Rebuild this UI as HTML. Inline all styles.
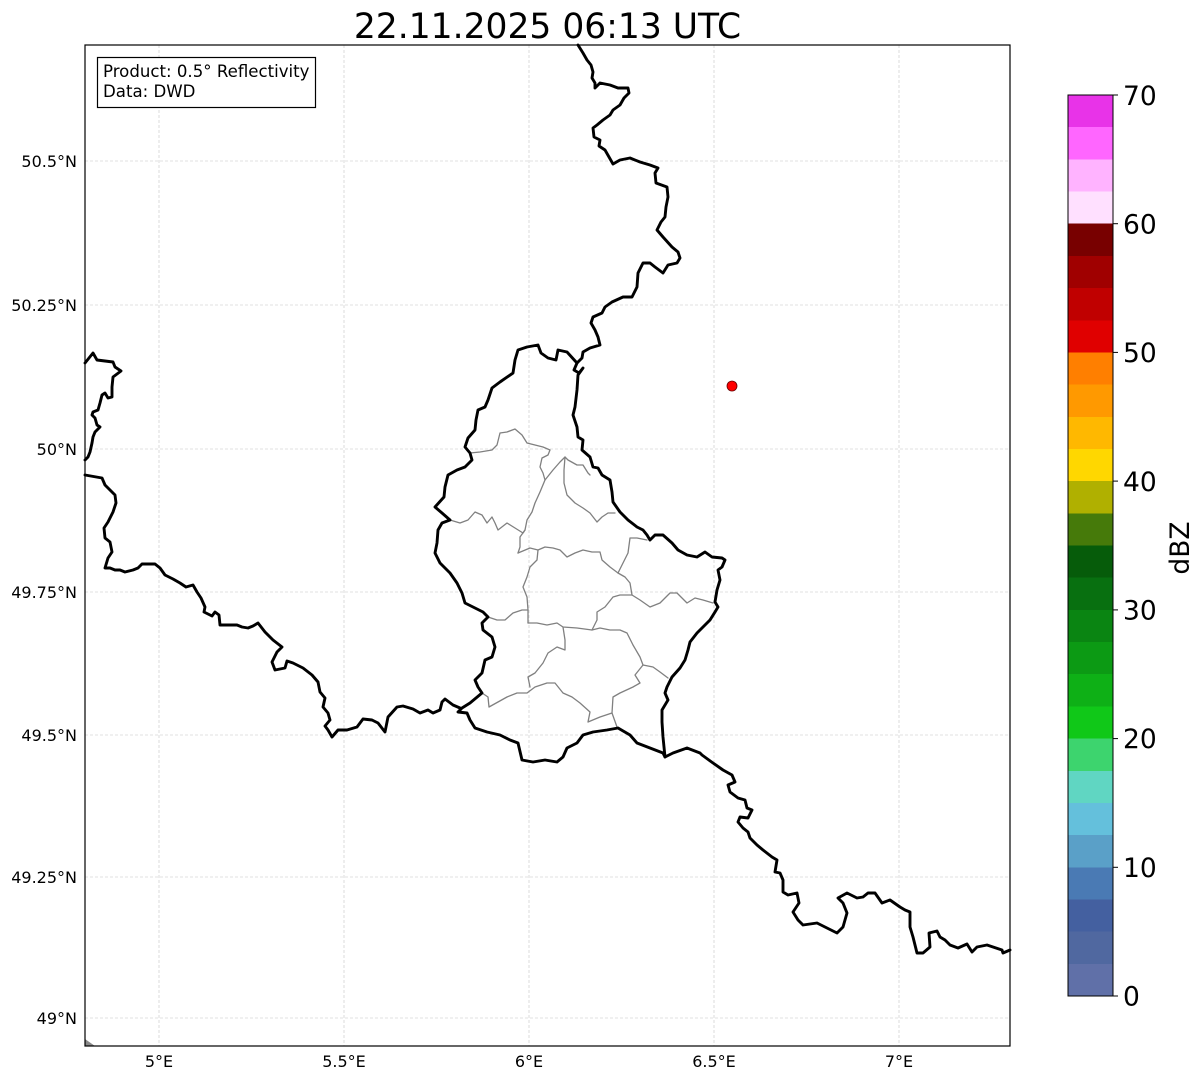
<!DOCTYPE html>
<html>
<head>
<meta charset="utf-8">
<style>
html,body{margin:0;padding:0;background:#fff;}
svg{display:block;}
text{font-family:"DejaVu Sans","Liberation Sans",sans-serif;fill:#000;}
</style>
</head>
<body>
<svg width="1202" height="1081" viewBox="0 0 1202 1081" xmlns="http://www.w3.org/2000/svg">
<rect x="0" y="0" width="1202" height="1081" fill="#fff"/>

<!-- title -->
<text x="547.5" y="38" font-size="34.5" text-anchor="middle">22.11.2025 06:13 UTC</text>

<!-- gridlines -->
<g stroke="#c4c4c4" stroke-width="0.6" stroke-dasharray="3,2" fill="none">
<line x1="159" y1="45" x2="159" y2="1046"/>
<line x1="344" y1="45" x2="344" y2="1046"/>
<line x1="529" y1="45" x2="529" y2="1046"/>
<line x1="714" y1="45" x2="714" y2="1046"/>
<line x1="899" y1="45" x2="899" y2="1046"/>
<line x1="85" y1="161" x2="1010" y2="161"/>
<line x1="85" y1="305" x2="1010" y2="305"/>
<line x1="85" y1="449" x2="1010" y2="449"/>
<line x1="85" y1="592" x2="1010" y2="592"/>
<line x1="85" y1="735" x2="1010" y2="735"/>
<line x1="85" y1="877" x2="1010" y2="877"/>
<line x1="85" y1="1018" x2="1010" y2="1018"/>
</g>

<!-- canton lines -->
<g stroke="#808080" stroke-width="1.3" fill="none" stroke-linejoin="round" stroke-linecap="round">
<polyline points="470,453 480,452 492,450 497,445 500,433 507,432 515,429 522,435 527,443 535,445 543,447 550,450 548,455 542,458 540,467 543,473 545,480 540,492 535,503 532,512 527,520 525,530 520,537 520,547 518,553"/>
<polyline points="545,480 553,470 560,462 565,457 568,460 577,465 583,465 588,473 590,475"/>
<polyline points="565,457 564,470 564,483 567,495 575,503 583,508 590,513 597,522 602,517 608,513 615,513"/>
<polyline points="450,520 460,523 468,520 475,512 482,515 487,523 492,517 495,523 498,530 507,523 515,528 523,533 525,530"/>
<polyline points="518,553 530,548 538,550 545,547 553,548 560,550 567,557 575,553 583,550 592,552 600,552 602,560 610,567 618,573 625,577 630,583 632,595"/>
<polyline points="618,573 628,553 630,538 637,538 647,540"/>
<polyline points="538,550 537,560 530,567 527,577 523,587 527,597 528,610 528,623"/>
<polyline points="488,617 497,620 505,620 513,613 522,610 528,610"/>
<polyline points="528,623 537,623 547,625 557,623 563,627 577,628 592,630 600,628 610,630 620,630 627,633 633,645 640,657 643,665"/>
<polyline points="632,595 620,595 613,597 605,607 597,612 597,620 592,630"/>
<polyline points="632,595 640,600 650,607 660,603 670,593 677,593 687,603 695,598 703,600 713,603"/>
<polyline points="563,627 565,640 565,650 557,647 548,653 543,663 535,673 528,677 530,687"/>
<polyline points="482,693 488,697 489,707 507,697 517,693 527,693 535,687 547,683 555,683 563,693 572,697 580,703 590,712 588,722 600,717 612,713 617,727"/>
<polyline points="612,713 613,697 620,693 633,687 640,683 635,675 643,665 653,667 660,672 668,678"/>
</g>

<!-- country borders -->
<g stroke="#000" stroke-width="2.9" fill="none" stroke-linejoin="round" stroke-linecap="round">
<polyline points="578,45 583,53 587,60 591,65 593,72 592,78 595,83 595,88 600,83 610,85 618,88 628,88 629,93 624,98 620,105 613,110 610,115 603,120 597,125 593,128 594,137 600,140 599,146 605,150 609,157 613,164 620,160 630,158 640,162 650,165 658,168 655,173 656,183 667,187 668,197 666,207 665,217 661,222 657,230 663,237 672,247 678,252 680,258 677,263 668,265 663,273 655,267 650,263 643,263 638,273 637,287 632,297 623,297 612,302 605,307 602,313 593,317 591,323 595,330 598,337 600,345 590,348 583,352 582,358 577,363 574,370 579,373 583,368 578,375 577,390 575,407 573,415 577,427 578,437 583,440 582,450 590,457 593,467 598,468 602,475 610,480 612,492 613,502 620,512 628,520 637,527 643,530 647,535 650,540 655,535 663,535 672,543 678,550 687,555 697,557 705,552 712,557 722,558 725,560 722,567 718,570 720,580 717,590 715,602 718,607 715,612 710,620 703,627 697,633 690,642 688,650 685,660 680,668 672,677 667,687 665,693 668,700 662,710 662,722 663,737 665,757 673,753 687,748 700,753 702,755 713,763 723,770 732,775 735,782 728,785 730,792 738,798 745,800 747,808 752,810 748,818 740,817 738,822 743,828 748,832 750,838 757,845 763,850 772,857 777,860 775,872 780,873 783,880 783,892 788,895 797,893 799,903 793,912 798,920 803,925 817,923 827,928 837,933 843,927 847,913 843,903 838,898 847,893 857,898 863,897 868,893 875,893 882,903 890,900 900,907 905,910 910,912 910,927 913,937 917,953 923,953 930,947 929,933 937,931 940,937 945,940 950,945 958,948 967,944 972,952 977,947 987,945 993,947 1002,950 1003,953 1010,950"/>
<polyline points="577,363 567,352 558,350 556,360 548,358 541,353 538,345 527,347 518,350 515,360 513,373 500,382 492,388 488,400 485,407 478,410 476,420 475,430 468,438 465,447 470,453 472,460 465,467 457,470 448,475 445,487 444,497 435,507 442,513 450,520 442,523 438,530 437,543 435,553 440,563 450,573 457,583 462,593 465,603 473,607 483,612 488,617 482,623 483,630 492,637 495,647 492,657 485,660 482,673 475,680 478,687 482,693 470,703 462,708 458,712 467,713 470,720 475,728 487,732 500,735 510,740 518,743 522,760 533,762 545,760 557,762 563,757 567,748 577,743 583,735 593,732 607,730 618,728 630,735 637,743 650,748 663,753 665,757"/>
<polyline points="85,475 102,478 105,485 112,492 115,495 116,503 113,512 108,522 104,528 105,538 110,542 112,552 108,558 105,568 110,568 115,570 120,570 125,572 133,570 138,568 142,564 155,564 160,568 165,575 173,579 180,583 186,587 193,585 197,592 201,598 205,607 204,612 212,616 215,612 219,615 220,625 227,625 237,625 242,627 248,628 253,626 258,623 265,632 273,640 282,647 277,652 272,662 275,670 285,668 287,661 293,663 303,668 312,675 318,682 320,692 325,698 323,707 328,713 330,720 325,726 328,730 332,737 338,730 347,730 357,727 363,719 372,720 378,723 385,732 388,717 397,707 403,706 413,709 420,713 428,710 433,713 440,710 442,702 445,699 453,705 460,708"/>
<polyline points="85,363 93,353 97,360 113,362 115,367 121,371 113,377 112,387 112,397 108,398 105,393 102,395 100,403 98,410 93,412 92,415 95,418 97,425 100,427 95,432 93,437 92,443 90,452 88,457 85,460"/>
</g>

<!-- corner gray piece -->
<polygon points="85,1039 95,1046 85,1046" fill="#888"/>

<!-- radar site -->
<circle cx="732" cy="386" r="5" fill="#f00" stroke="#600" stroke-width="0.8"/>

<!-- axes frame -->
<rect x="85" y="45" width="925" height="1001" fill="none" stroke="#000" stroke-width="1.2"/>

<!-- info box -->
<rect x="97.5" y="57.5" width="218" height="50" fill="#fff" stroke="#000" stroke-width="1.2"/>
<text x="103" y="77" font-size="16.6">Product: 0.5° Reflectivity</text>
<text x="103" y="97" font-size="16.6">Data: DWD</text>

<!-- y labels -->
<g font-size="16" text-anchor="end">
<text x="77" y="167">50.5°N</text>
<text x="77" y="311">50.25°N</text>
<text x="77" y="455">50°N</text>
<text x="77" y="598">49.75°N</text>
<text x="77" y="741">49.5°N</text>
<text x="77" y="883">49.25°N</text>
<text x="77" y="1024">49°N</text>
</g>
<!-- x labels -->
<g font-size="16" text-anchor="middle">
<text x="159" y="1067">5°E</text>
<text x="344" y="1067">5.5°E</text>
<text x="529" y="1067">6°E</text>
<text x="714" y="1067">6.5°E</text>
<text x="899" y="1067">7°E</text>
</g>

<!-- colorbar -->
<g shape-rendering="crispEdges">
<rect x="1068" y="95.00" width="45" height="32.6" fill="#e833e8"/>
<rect x="1068" y="127.18" width="45" height="32.6" fill="#ff66ff"/>
<rect x="1068" y="159.36" width="45" height="32.6" fill="#ffb3ff"/>
<rect x="1068" y="191.54" width="45" height="32.6" fill="#ffe0ff"/>
<rect x="1068" y="223.71" width="45" height="32.6" fill="#780000"/>
<rect x="1068" y="255.89" width="45" height="32.6" fill="#a00000"/>
<rect x="1068" y="288.07" width="45" height="32.6" fill="#c00000"/>
<rect x="1068" y="320.25" width="45" height="32.6" fill="#e00000"/>
<rect x="1068" y="352.43" width="45" height="32.6" fill="#ff7f00"/>
<rect x="1068" y="384.61" width="45" height="32.6" fill="#ff9900"/>
<rect x="1068" y="416.79" width="45" height="32.6" fill="#ffb800"/>
<rect x="1068" y="448.96" width="45" height="32.6" fill="#ffd700"/>
<rect x="1068" y="481.14" width="45" height="32.6" fill="#b0b000"/>
<rect x="1068" y="513.32" width="45" height="32.6" fill="#467a0a"/>
<rect x="1068" y="545.50" width="45" height="32.6" fill="#065c0a"/>
<rect x="1068" y="577.68" width="45" height="32.6" fill="#087010"/>
<rect x="1068" y="609.86" width="45" height="32.6" fill="#0a8512"/>
<rect x="1068" y="642.04" width="45" height="32.6" fill="#0c9a14"/>
<rect x="1068" y="674.21" width="45" height="32.6" fill="#0eb016"/>
<rect x="1068" y="706.39" width="45" height="32.6" fill="#10c818"/>
<rect x="1068" y="738.57" width="45" height="32.6" fill="#3dd46e"/>
<rect x="1068" y="770.75" width="45" height="32.6" fill="#60d6c2"/>
<rect x="1068" y="802.93" width="45" height="32.6" fill="#64c0dc"/>
<rect x="1068" y="835.11" width="45" height="32.6" fill="#5aa0c8"/>
<rect x="1068" y="867.29" width="45" height="32.6" fill="#4a7ab4"/>
<rect x="1068" y="899.46" width="45" height="32.6" fill="#4460a0"/>
<rect x="1068" y="931.64" width="45" height="32.6" fill="#5068a0"/>
<rect x="1068" y="963.82" width="45" height="32.18" fill="#6070a8"/>
</g>
<rect x="1068" y="95" width="45" height="901" fill="none" stroke="#000" stroke-width="1"/>
<g stroke="#000" stroke-width="1">
<line x1="1113" y1="95" x2="1118" y2="95"/>
<line x1="1113" y1="223.7" x2="1118" y2="223.7"/>
<line x1="1113" y1="352.4" x2="1118" y2="352.4"/>
<line x1="1113" y1="481.1" x2="1118" y2="481.1"/>
<line x1="1113" y1="609.9" x2="1118" y2="609.9"/>
<line x1="1113" y1="738.6" x2="1118" y2="738.6"/>
<line x1="1113" y1="867.3" x2="1118" y2="867.3"/>
<line x1="1113" y1="996" x2="1118" y2="996"/>
</g>
<g font-size="26.5">
<text x="1123" y="105">70</text>
<text x="1123" y="233.5">60</text>
<text x="1123" y="362">50</text>
<text x="1123" y="491">40</text>
<text x="1123" y="619.5">30</text>
<text x="1123" y="748">20</text>
<text x="1123" y="877">10</text>
<text x="1123" y="1005.5">0</text>
</g>
<text x="0" y="0" font-size="26.5" text-anchor="middle" transform="translate(1189,548) rotate(-90)">dBZ</text>
</svg>
</body>
</html>
